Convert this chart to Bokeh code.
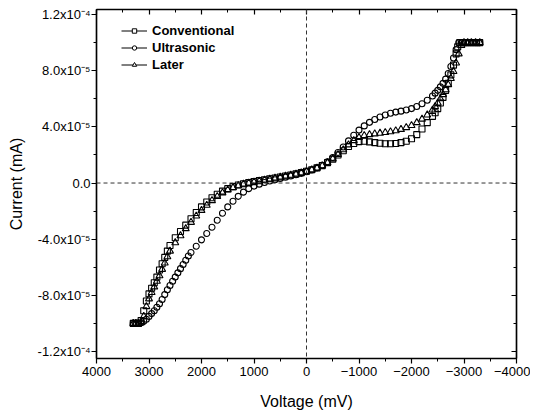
import numpy as np
from bokeh.plotting import figure
from bokeh.models import (Range1d, FixedTicker, LinearAxis, Span, Legend, LegendItem,
                          ColumnDataSource, CustomJSTickFormatter)
from bokeh.embed import file_html
from bokeh.resources import INLINE

# ---------------- data (voltage in mV, current in units of 1e-5 mA) ----------------
x_ticks = [-4000, -3000, -2000, -1000, 0, 1000, 2000, 3000, 4000]
x_minor = [-3500, -2500, -1500, -500, 500, 1500, 2500, 3500]
y_ticks = [-1.2e-4, -8e-5, -4e-5, 0.0, 4e-5, 8e-5, 1.2e-4]
y_minor = [-1e-4, -6e-5, -2e-5, 2e-5, 6e-5, 1e-4]
y_tick_labels = ["-1.2x10\u207b\u2074", "-8.0x10\u207b\u2075", "-4.0x10\u207b\u2075", "0.0",
                 "4.0x10\u207b\u2075", "8.0x10\u207b\u2075", "1.2x10\u207b\u2074"]

series_names = ["Conventional", "Ultrasonic", "Later"]

conv_v = [3300, 3250, 3200, 3150, 3100, 3050, 3000, 2950, 2900, 2850, 2800, 2750, 2700, 2650, 2600,
          2500, 2400, 2300, 2200, 2100, 2000, 1900, 1800, 1700, 1600, 1500, 1400, 1300, 1200, 1100, 1000,
          900, 800, 700, 600, 500, 400, 300, 200, 100, 0,
          -100, -200, -300, -400, -500, -600, -700, -800, -900, -1000, -1100, -1200,
          -1300, -1400, -1500, -1600, -1700, -1800, -1900, -2000, -2100, -2200, -2300, -2400,
          -2450, -2500, -2550, -2600, -2650, -2700, -2750, -2800, -2850, -2880, -2920, -2970,
          -3030, -3100, -3170, -3240, -3300]
conv_i = [-10.0, -10.0, -10.0, -9.8, -9.1, -8.4, -7.9, -7.5, -7.1, -6.7, -6.2, -5.75, -5.3, -4.85, -4.45,
          -3.9, -3.45, -3.0, -2.55, -2.1, -1.7, -1.35, -1.05, -0.8, -0.58, -0.4, -0.26, -0.14, -0.05, 0.03, 0.1,
          0.17, 0.23, 0.3, 0.36, 0.43, 0.5, 0.57, 0.65, 0.74, 0.84,
          0.95, 1.08, 1.24, 1.45, 1.7, 2.0, 2.3, 2.6, 2.82, 2.95, 2.98, 2.93,
          2.88, 2.83, 2.8, 2.8, 2.82, 2.88, 2.98, 3.15, 3.45, 3.85, 4.3, 4.75,
          5.0, 5.3, 5.7, 6.1, 6.6, 7.1, 7.7, 8.4, 9.2, 9.7, 10.0, 10.0,
          10.0, 10.0, 10.0, 10.0, 10.0]

ultra_v = [3300, 3250, 3200, 3150, 3100, 3050, 3000, 2950, 2900, 2850, 2800, 2750, 2700, 2650, 2600,
           2550, 2500, 2450, 2400, 2350, 2300, 2250, 2200,
           2100, 2000, 1900, 1800, 1700, 1600, 1500, 1400, 1300, 1200, 1100, 1000,
           900, 800, 700, 600, 500, 400, 300, 200, 100, 0,
           -100, -200, -300, -400, -500, -600, -700, -800, -900, -1000, -1100, -1200,
           -1300, -1400, -1500, -1600, -1700, -1800, -1900, -2000, -2100, -2200, -2300, -2400,
           -2450, -2500, -2550, -2600, -2650, -2700, -2750, -2800, -2850, -2900, -2950,
           -3030, -3100, -3170, -3240, -3300]
ultra_i = [-10.0, -10.0, -10.0, -9.95, -9.85, -9.7, -9.5, -9.3, -9.1, -8.85, -8.6, -8.3, -7.95, -7.6, -7.3,
           -7.0, -6.7, -6.4, -6.1, -5.8, -5.5, -5.2, -4.95,
           -4.5, -4.05, -3.6, -3.15, -2.65, -2.15, -1.7, -1.3, -0.95, -0.65, -0.4, -0.22,
           -0.08, 0.04, 0.14, 0.23, 0.32, 0.41, 0.5, 0.59, 0.69, 0.8,
           0.93, 1.08, 1.27, 1.52, 1.82, 2.17, 2.57, 3.0, 3.4, 3.77, 4.07, 4.32,
           4.52, 4.7, 4.85, 4.97, 5.05, 5.12, 5.2, 5.3, 5.45, 5.65, 5.9, 6.2,
           6.4, 6.6, 6.85, 7.1, 7.4, 7.8, 8.3, 8.9, 9.5, 10.0, 10.0,
           10.0, 10.0, 10.0, 10.0, 10.0]

later_v = [3300, 3250, 3200, 3150, 3100, 3050, 3000, 2950, 2900, 2850, 2800, 2750, 2700, 2650, 2600,
           2500, 2400, 2300, 2200, 2100, 2000, 1900, 1800, 1700, 1600, 1500, 1400, 1300, 1200, 1100, 1000,
           900, 800, 700, 600, 500, 400, 300, 200, 100, 0,
           -100, -200, -300, -400, -500, -600, -700, -800, -900, -1000, -1100, -1200,
           -1300, -1400, -1500, -1600, -1700, -1800, -1900, -2000, -2100, -2200, -2300, -2400,
           -2450, -2500, -2550, -2600, -2650, -2700, -2750, -2800, -2850, -2900, -2950, -3000,
           -3070, -3140, -3220, -3300]
later_i = [-10.0, -10.0, -10.0, -9.95, -9.5, -8.8, -8.25, -7.8, -7.4, -7.0, -6.6, -6.15, -5.7, -5.25, -4.85,
           -4.25, -3.75, -3.25, -2.8, -2.35, -1.95, -1.58, -1.25, -0.96, -0.7, -0.5, -0.33, -0.19, -0.08, 0.0, 0.07,
           0.14, 0.21, 0.28, 0.35, 0.42, 0.49, 0.56, 0.64, 0.73, 0.83,
           0.94, 1.07, 1.23, 1.45, 1.72, 2.03, 2.37, 2.72, 3.02, 3.24, 3.38, 3.45,
           3.5, 3.55, 3.6, 3.65, 3.72, 3.82, 3.95, 4.1, 4.3, 4.55, 4.85, 5.2,
           5.45, 5.7, 6.0, 6.3, 6.65, 7.0, 7.45, 7.95, 8.55, 9.2, 9.8, 10.0,
           10.0, 10.0, 10.0, 10.0]

assert len(conv_v) == len(conv_i)
assert len(ultra_v) == len(ultra_i)
assert len(later_v) == len(later_i)

# ---------------- figure ----------------
FONT = "Liberation Sans"

p = figure(width=530, height=414,
           x_range=Range1d(4000, -4000), y_range=Range1d(-1.25e-4, 1.236e-4),
           output_backend="svg", toolbar_location=None,
           min_border_left=96, min_border_right=14, min_border_top=9, min_border_bottom=56)
p.background_fill_color = "white"
p.border_fill_color = "white"
p.outline_line_color = "black"
p.outline_line_width = 1.2
p.xgrid.visible = False
p.ygrid.visible = False

x_ticker = FixedTicker(ticks=x_ticks, minor_ticks=x_minor)
y_ticker = FixedTicker(ticks=y_ticks, minor_ticks=y_minor)

xa = p.xaxis[0]
xa.ticker = x_ticker
xa.axis_label = "Voltage (mV)"
ya = p.yaxis[0]
ya.ticker = y_ticker
ya.axis_label = "Current (mA)"
ya.major_label_overrides = {t: s for t, s in zip(y_ticks, y_tick_labels)}

for ax in (xa, ya):
    ax.axis_line_width = 1.5
    ax.axis_line_color = "black"
    ax.major_tick_line_color = "black"
    ax.minor_tick_line_color = "black"
    ax.major_tick_line_width = 1.2
    ax.minor_tick_line_width = 1.0
    ax.major_tick_in = 0
    ax.major_tick_out = 5
    ax.minor_tick_in = 0
    ax.minor_tick_out = 3
    ax.major_label_text_font = FONT
    ax.major_label_text_font_size = "13px"
    ax.major_label_text_color = "black"
    ax.axis_label_text_font = FONT
    ax.axis_label_text_font_size = "16px"
    ax.axis_label_text_font_style = "normal"
    ax.axis_label_text_color = "black"
xa.major_label_standoff = 3
xa.axis_label_standoff = 14
ya.major_label_standoff = 1
ya.axis_label_standoff = 10

blank = CustomJSTickFormatter(code="return ''")
top = LinearAxis(ticker=x_ticker, formatter=blank)
right = LinearAxis(ticker=y_ticker, formatter=blank)
for ax in (top, right):
    ax.major_label_standoff = 0
    ax.major_label_text_font_size = "1px"
    ax.axis_line_width = 1.5
    ax.axis_line_color = "black"
    ax.major_tick_line_color = "black"
    ax.minor_tick_line_color = "black"
    ax.major_tick_line_width = 1.2
    ax.major_tick_in = 5
    ax.major_tick_out = 0
    ax.minor_tick_in = 3
    ax.minor_tick_out = 0
p.add_layout(top, "above")
p.add_layout(right, "right")

# dashed zero lines
p.add_layout(Span(location=0, dimension="height", line_color="#333333", line_dash="4 3", line_width=1))
p.add_layout(Span(location=0, dimension="width", line_color="#333333", line_dash="4 3", line_width=1))

markers = ["square", "circle", "triangle"]
sizes = [6, 6, 7]
volts = [conv_v, ultra_v, later_v]
currs = [conv_i, ultra_i, later_i]

items = []
for name, mk, sz, v, c in zip(series_names, markers, sizes, volts, currs):
    src = ColumnDataSource(dict(x=v, y=np.array(c) * 1e-5))
    p.scatter("x", "y", source=src, marker=mk, size=sz, fill_color=None,
              line_color="black", line_width=1.1)
    dummy = ColumnDataSource(dict(x=[np.nan], y=[np.nan]))
    lr = p.line("x", "y", source=dummy, line_color="black", line_width=1)
    sr = p.scatter("x", "y", source=dummy, marker=mk, size=5, fill_color="white",
                   line_color="black", line_width=1)
    items.append(LegendItem(label=name, renderers=[lr, sr]))

legend = Legend(items=items, location=(25, 286), orientation="vertical")
legend.border_line_color = None
legend.background_fill_alpha = 0
legend.padding = 4
legend.margin = 0
legend.spacing = 1
legend.glyph_width = 26
legend.glyph_height = 11
legend.label_height = 16
legend.label_standoff = 5
legend.label_text_font = FONT
legend.label_text_font_size = "13px"
legend.label_text_font_style = "bold"
legend.label_text_color = "black"
p.add_layout(legend)

open("out.html", "w").write(file_html(p, INLINE))
